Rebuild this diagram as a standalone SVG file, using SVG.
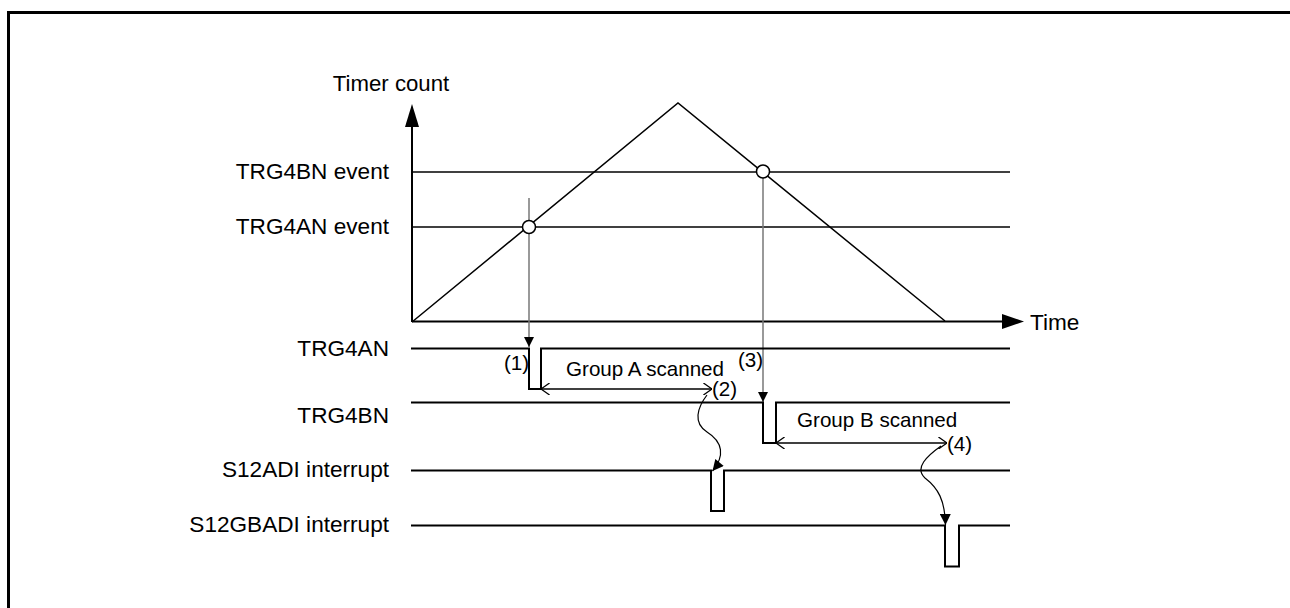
<svg xmlns="http://www.w3.org/2000/svg" width="1290" height="608" viewBox="0 0 1290 608">
<style>
text{font-family:"Liberation Sans",Arial,sans-serif;fill:#000}
.lbl{font-size:22.6px;text-anchor:end}
.ann{font-size:20.6px}
.ln{fill:none;stroke:#000;stroke-width:1.5}
.ax{fill:none;stroke:#000;stroke-width:2}
.sig{fill:none;stroke:#000;stroke-width:2}
.trg{fill:none;stroke:#777;stroke-width:1.5}
.dim{fill:none;stroke:#000;stroke-width:1.5}
.cv{fill:none;stroke:#000;stroke-width:1.2}
.pt{fill:#fff;stroke:#000;stroke-width:1.5}
</style>
<defs>
<marker id="fa" viewBox="0 0 10 10" refX="10" refY="5" markerWidth="10" markerHeight="10" markerUnits="userSpaceOnUse" orient="auto"><path d="M0,0 L10,5 L0,10 Z" fill="#000"/></marker>
<marker id="oa" viewBox="0 0 10 14" refX="10" refY="7" markerWidth="9" markerHeight="12" markerUnits="userSpaceOnUse" orient="auto-start-reverse"><path d="M0,0 L10,7 L0,14" fill="none" stroke="#000" stroke-width="1.5"/></marker>
<marker id="ca" viewBox="0 0 10 10" refX="10" refY="5" markerWidth="15" markerHeight="11" markerUnits="userSpaceOnUse" orient="auto"><path d="M0,0 L10,5 L0,10 Z" fill="#000"/></marker>
</defs>
<rect x="8.5" y="12.5" width="1400" height="700" fill="#fff" stroke="#000" stroke-width="3"/>

<g id="axes">
<line class="ax" x1="412" y1="322" x2="412" y2="126"/>
<path d="M405,127 L412,104 L419,127 Z" fill="#000"/>
<line class="ax" x1="412" y1="321.5" x2="1003" y2="321.5"/>
<path d="M1002,314 L1024,321.5 L1002,329 Z" fill="#000"/>
<text x="391" y="91" style="font-size:22.2px;text-anchor:middle">Timer count</text>
<text x="1030" y="330" style="font-size:22.6px">Time</text>
</g>

<g id="levels">
<line class="ln" x1="412" y1="172" x2="1010" y2="172"/>
<line class="ln" x1="412" y1="227" x2="1010" y2="227"/>
<text class="lbl" x="389" y="179">TRG4BN event</text>
<text class="lbl" x="389" y="234">TRG4AN event</text>
</g>

<g id="counter">
<polyline class="ln" points="412,322 678,103 945,321"/>
</g>

<g id="connectors">
<line class="trg" x1="529" y1="198" x2="529" y2="347" marker-end="url(#fa)"/>
<line class="trg" x1="763" y1="178" x2="763" y2="402" marker-end="url(#fa)"/>
<path class="cv" d="M707,395 C697,408 693,423 707,432 C723,442 725,456 712.5,471" marker-end="url(#ca)"/>
<path class="cv" d="M941,446 C927,456 914,468 925,478 C938,488 945,500 945.5,525" marker-end="url(#ca)"/>
</g>

<g id="point-a"><circle class="pt" cx="529" cy="227" r="6.5"/></g>
<g id="point-b"><circle class="pt" cx="763" cy="171.5" r="6.5"/></g>

<g id="trg4an">
<text class="lbl" x="389" y="356">TRG4AN</text>
<path class="sig" d="M411,348.5 H529 V389 H541 V348.5 H1010"/>
<line class="dim" x1="541" y1="389" x2="712" y2="389" marker-start="url(#oa)" marker-end="url(#oa)"/>
<text class="ann" x="566" y="376">Group A scanned</text>
<text class="ann" x="504" y="370">(1)</text>
<text class="ann" x="712" y="396">(2)</text>
<text class="ann" x="738" y="367">(3)</text>
</g>

<g id="trg4bn">
<text class="lbl" x="389" y="423">TRG4BN</text>
<path class="sig" d="M411,402.5 H763 V443 H776 V402.5 H1010"/>
<line class="dim" x1="776" y1="443" x2="947" y2="443" marker-start="url(#oa)" marker-end="url(#oa)"/>
<text class="ann" x="797" y="427">Group B scanned</text>
<text class="ann" x="947" y="451">(4)</text>
</g>

<g id="s12adi">
<text class="lbl" x="389" y="477">S12ADI interrupt</text>
<path class="sig" d="M411,470.5 H711 V511 H724 V470.5 H1010"/>
</g>

<g id="s12gbadi">
<text class="lbl" x="389" y="532">S12GBADI interrupt</text>
<path class="sig" d="M411,525.5 H945 V566.5 H959 V525.5 H1010"/>
</g>
</svg>
